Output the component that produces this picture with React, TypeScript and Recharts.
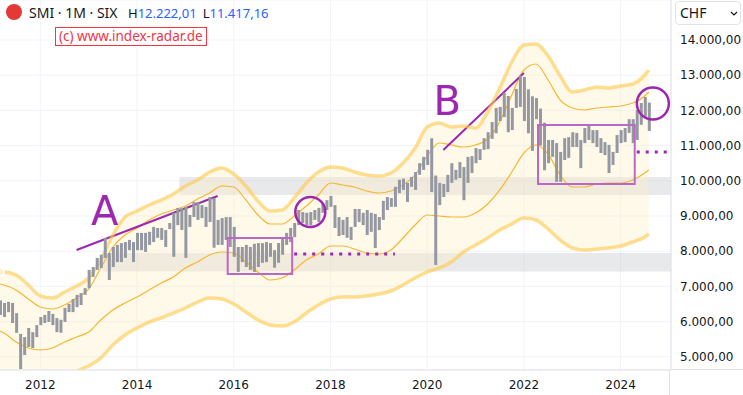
import React from "react";
import {
  ComposedChart,
  Bar,
  Line,
  Area,
  XAxis,
  YAxis,
  CartesianGrid,
  ReferenceArea,
  ReferenceLine,
  ReferenceDot,
} from "recharts";

// monthly categories Mar 2011 .. Jan 2025 (last 5 months are empty space on the right)
const months: string[] = Array.from({ length: 167 }, (_, i) => {
  const t = 2011 * 12 + 2 + i;
  return `${Math.floor(t / 12)}-${String((t % 12) + 1).padStart(2, "0")}`;
});

const yearTicks = ["2012-01", "2014-01", "2016-01", "2018-01", "2020-01", "2022-01", "2024-01"];
const priceTicks = [5000, 6000, 7000, 8000, 9000, 10000, 11000, 12000, 13000, 14000];

// monthly low / high, Mar 2011 .. Aug 2024
const lows = [
  6190, 6130, 6270, 5960, 5680, 4650, 5050, 5280, 5250, 5560, // 2011
  5900, 5960, 5990, 5900, 5700, 5680, 5990, 6270, 6270, 6410, 6470, 6760, // 2012
  6950, 7270, 7470, 7520, 7810, 7180, 7550, 7690, 7690, 7810, 8030, 7690, // 2013
  8030, 8030, 7980, 8180, 8260, 8380, 8320, 8120, 8630, 7840, 8740, 8600, // 2014
  7810, 8690, 8970, 8890, 8940, 8690, 8830, 8100, 8180, 8180, 8320, 8120, // 2015
  7840, 7410, 7690, 7550, 7470, 7410, 7550, 7670, 7690, 7840, 7530, 7670, // 2016
  7900, 8180, 8260, 8400, 8740, 8800, 8740, 8740, 8890, 8830, 9090, 9170, // 2017
  9260, 8660, 8430, 8460, 8380, 8320, 8690, 8830, 8740, 8460, 8550, 8090, // 2018
  8600, 8890, 9170, 9260, 9260, 9650, 9740, 9400, 9830, 9740, 10170, 10310, // 2019
  10450, 9680, 7610, 9310, 9540, 9680, 9940, 10030, 10080, 9450, 9940, 10220, // 2020
  10500, 10590, 10880, 10900, 11190, 11350, 11700, 11810, 11380, 11440, 12070, 12100, // 2021
  11700, 11350, 10850, 11750, 11000, 10300, 10500, 10680, 9970, 9970, 10590, 10650, // 2022
  10960, 10960, 10360, 11070, 11160, 11070, 10960, 10790, 10730, 10220, 10450, 10790, // 2023
  11070, 11100, 11360, 11070, 11160, 11590, 11810, 11417, // 2024
];
const highs = [
  6600, 6530, 6560, 6530, 6240, 5650, 5560, 5820, 5700, 5900,
  6130, 6190, 6300, 6220, 6100, 6050, 6390, 6500, 6640, 6760, 6810, 6950,
  7470, 7550, 7810, 7900, 8380, 7950, 8120, 8180, 8230, 8260, 8320, 8260,
  8520, 8520, 8520, 8550, 8690, 8660, 8660, 8600, 8800, 9090, 9230, 9230,
  9260, 9030, 9400, 9400, 9310, 9260, 9540, 9510, 8890, 8940, 8970, 8970,
  8690, 8120, 8120, 8180, 8120, 8210, 8230, 8230, 8260, 8230, 8030, 8230,
  8400, 8520, 8660, 8800, 9170, 9110, 9090, 9110, 9170, 9230, 9370, 9450,
  9570, 9310, 8970, 8890, 8970, 8690, 9200, 9200, 9090, 9170, 9090, 9060,
  8970, 9430, 9540, 9510, 9830, 10030, 10060, 9940, 10110, 10250, 10500, 10680,
  10880, 11210, 10150, 9940, 9910, 10170, 10500, 10310, 10530, 10390, 10680, 10700,
  10930, 10900, 11210, 11380, 11670, 12070, 12100, 12500, 12410, 12070, 12610, 12990,
  12950, 12600, 12400, 12350, 12050, 11650, 11160, 11160, 11070, 10820, 11210, 11240,
  11380, 11360, 11160, 11500, 11560, 11440, 11440, 11210, 11100, 11020, 10820, 11300,
  11440, 11500, 11750, 11750, 12010, 12210, 12380, 12222,
];

// envelope bands, read quarterly
const bandMonths = [
  "2011-03", "2011-04", "2011-07", "2011-10",
  "2012-01", "2012-04", "2012-07", "2012-10",
  "2013-01", "2013-04", "2013-07", "2013-10",
  "2014-01", "2014-04", "2014-07", "2014-10",
  "2015-01", "2015-04", "2015-07", "2015-10",
  "2016-01", "2016-04", "2016-07", "2016-10",
  "2017-01", "2017-04", "2017-07", "2017-10",
  "2018-01", "2018-04", "2018-07", "2018-10",
  "2019-01", "2019-04", "2019-07", "2019-10",
  "2020-01", "2020-04", "2020-07", "2020-10",
  "2021-01", "2021-04", "2021-07", "2021-10",
  "2022-01", "2022-04", "2022-07", "2022-10",
  "2023-01", "2023-04", "2023-07", "2023-10",
  "2024-01", "2024-04", "2024-07", "2024-08",
];
const outerUpper = [
  7409, 7409, 7324, 7040, 6727, 6670, 6841, 7011, 7239, 7750, 8460, 8972,
  9142, 9313, 9455, 9625, 9852, 10023, 10250, 10364, 10193, 9852, 9426, 9142,
  9171, 9511, 9937, 10250, 10392, 10364, 10250, 10165, 10136, 10222, 10506, 10932,
  11528, 11642, 11528, 11557, 11500, 11955, 12636, 13375, 13858, 13886, 13545, 12977,
  12523, 12580, 12665, 12636, 12693, 12750, 13006, 13148,
];
const innerUpper = [
  7068, 7040, 6898, 6642, 6415, 6358, 6472, 6670, 6926, 7523, 8119, 8460,
  8659, 8886, 9057, 9171, 9284, 9483, 9653, 9852, 9824, 9455, 9028, 8773,
  8773, 9000, 9284, 9597, 9937, 9880, 9824, 9710, 9653, 9710, 9880, 10165,
  10704, 11074, 11017, 10960, 11017, 11188, 11671, 12438, 13148, 13318, 12864, 12296,
  12068, 12011, 12068, 12097, 12125, 12210, 12409, 12523,
];
const innerLower = [
  5733, 5676, 5420, 5250, 5193, 5250, 5420, 5562, 5704, 6045, 6329, 6528,
  6699, 6898, 7096, 7267, 7523, 7693, 7892, 7977, 7949, 7693, 7409, 7182,
  7239, 7466, 7750, 7920, 8148, 8148, 8062, 7949, 7920, 8034, 8375, 8744,
  9028, 9000, 8972, 8972, 9085, 9341, 9739, 10250, 10790, 11017, 10761, 10165,
  9824, 9824, 9909, 9937, 9937, 10023, 10222, 10307,
];
const outerLower = [
  4227, 4199, 4056, 3886, 3830, 3915, 4199, 4568, 4739, 4966, 5335, 5619,
  5818, 5988, 6102, 6244, 6386, 6556, 6670, 6642, 6500, 6272, 6045, 5903,
  5875, 5988, 6244, 6471, 6642, 6699, 6699, 6727, 6784, 6869, 7040, 7239,
  7409, 7523, 7693, 7977, 8176, 8375, 8602, 8773, 8943, 8886, 8630, 8318,
  8091, 8034, 8062, 8091, 8148, 8261, 8403, 8488,
];

const rows = months.map((m, i) => {
  const b = bandMonths.indexOf(m);
  return {
    m,
    hl: i < lows.length ? [lows[i], highs[i]] : null,
    ou: b >= 0 ? outerUpper[b] : null,
    iu: b >= 0 ? innerUpper[b] : null,
    il: b >= 0 ? innerLower[b] : null,
    ol: b >= 0 ? outerLower[b] : null,
    band: b >= 0 ? [outerLower[b], outerUpper[b]] : null,
  };
});

const PURPLE = "#9c27b0";
const fmtPrice = (v: number) => `${Math.floor(v / 1000)}.${String(v % 1000).padStart(3, "0")},00`;

export default function App() {
  return (
    <div
      style={{
        position: "absolute",
        left: 0,
        top: 0,
        width: 743,
        height: 395,
        overflow: "hidden",
        background: "#fff",
        fontFamily: "'DejaVu Sans', sans-serif",
      }}
    >
      <div style={{ position: "absolute", left: -2, top: 0 }}>
        <ComposedChart width={745} height={395} data={rows} margin={{ top: 0, right: 0, bottom: 0, left: 0 }}>
          <CartesianGrid stroke="#f0f3fa" />
          <XAxis
            dataKey="m"
            ticks={yearTicks}
            interval={0}
            tickFormatter={(m: string) => m.slice(0, 4)}
            height={25}
            tickLine={false}
            tickSize={0}
            tickMargin={10}
            axisLine={{ stroke: "#e0e3eb" }}
            tick={{ fill: "#131722", fontSize: 12 }}
          />
          <YAxis
            orientation="right"
            width={72}
            domain={[4625, 15136]}
            allowDataOverflow
            ticks={priceTicks}
            tickFormatter={fmtPrice}
            tickLine={false}
            tickSize={0}
            tickMargin={9}
            axisLine={{ stroke: "#e0e3eb" }}
            tick={{ fill: "#131722", fontSize: 12 }}
          />
          <ReferenceArea x1="2014-12" y1={9597} y2={10108} fill="#b2b5be" fillOpacity={0.3} stroke="none" zIndex={40} />
          <ReferenceArea x1="2013-05" y1={7420} y2={7950} fill="#b2b5be" fillOpacity={0.3} stroke="none" zIndex={40} />
          <Area
            dataKey="band"
            type="monotone"
            connectNulls
            fill="#ffefc6"
            fillOpacity={0.36}
            stroke="none"
            isAnimationActive={false}
            zIndex={60}
          />
          <Line dataKey="iu" type="monotone" connectNulls stroke="#f7b731" strokeWidth={1.2} dot={false} activeDot={false} isAnimationActive={false} zIndex={250} />
          <Line dataKey="il" type="monotone" connectNulls stroke="#f7b731" strokeWidth={1.2} dot={false} activeDot={false} isAnimationActive={false} zIndex={250} />
          <ReferenceLine segment={[{ x: "2012-10", y: 8034 }, { x: "2015-09", y: 9568 }]} stroke={PURPLE} strokeWidth={2} zIndex={270} />
          <ReferenceLine segment={[{ x: "2020-05", y: 10875 }, { x: "2022-01", y: 13062 }]} stroke={PURPLE} strokeWidth={2} zIndex={270} />
          <Line dataKey="ou" type="monotone" connectNulls stroke="#ffc94d" strokeOpacity={0.62} strokeWidth={3.5} dot={false} activeDot={false} isAnimationActive={false} zIndex={290} />
          <Line dataKey="ol" type="monotone" connectNulls stroke="#ffc94d" strokeOpacity={0.62} strokeWidth={3.5} dot={false} activeDot={false} isAnimationActive={false} zIndex={290} />
          <Bar dataKey="hl" fill="#9598a1" barSize={3} isAnimationActive={false} zIndex={300} />
          <ReferenceArea x1="2015-12" x2="2017-03" y1={7352} y2={8375} fill="none" fillOpacity={0} stroke="#ba68c8" strokeWidth={2} zIndex={700} />
          <ReferenceArea x1="2022-05" x2="2024-04" y1={9909} y2={11585} fill="none" fillOpacity={0} stroke="#ba68c8" strokeWidth={2} zIndex={700} />
          <ReferenceLine segment={[{ x: "2017-04", y: 7920 }, { x: "2019-05", y: 7920 }]} stroke={PURPLE} strokeWidth={3} strokeDasharray="3 6" zIndex={700} />
          <ReferenceLine segment={[{ x: "2024-05", y: 10818 }, { x: "2025-01", y: 10818 }]} stroke={PURPLE} strokeWidth={3} strokeDasharray="3 6" zIndex={700} />
          <ReferenceDot x="2017-08" y={9114} r={15} fill="none" stroke={PURPLE} strokeWidth={2.5} zIndex={700} />
          <ReferenceDot x="2024-09" y={12196} r={16} fill="none" stroke={PURPLE} strokeWidth={2.5} zIndex={700} />
          <ReferenceDot
            x="2013-05"
            y={9142}
            r={1}
            fill="none"
            stroke="none"
            zIndex={800}
            label={{ value: "A", position: "center", fill: PURPLE, fontSize: 40 }}
          />
          <ReferenceDot
            x="2020-06"
            y={12267}
            r={1}
            fill="none"
            stroke="none"
            zIndex={800}
            label={{ value: "B", position: "center", fill: PURPLE, fontSize: 40 }}
          />
        </ComposedChart>
      </div>

      {/* axis frame pieces in the price-scale corner */}
      <div style={{ position: "absolute", left: 669, top: 369, width: 74, height: 1, background: "#e0e3eb" }} />
      <div style={{ position: "absolute", left: 669, top: 369, width: 1, height: 26, background: "#e0e3eb" }} />

      {/* legend */}
      <div style={{ position: "absolute", left: 6, top: 4, width: 16, height: 16, borderRadius: 8, background: "#e53935" }} />
      <div
        style={{
          position: "absolute",
          left: 29,
          top: 3,
          fontFamily: "'Noto Sans', sans-serif",
          fontSize: 14,
          lineHeight: "20px",
          color: "#131722",
          whiteSpace: "nowrap",
        }}
      >
        SMI · 1M · SIX
      </div>
      <div
        style={{
          position: "absolute",
          left: 128,
          top: 4,
          fontFamily: "'Noto Sans', sans-serif",
          fontSize: 13,
          lineHeight: "18px",
          color: "#131722",
          whiteSpace: "nowrap",
        }}
      >
        H<span style={{ color: "#2962ff" }}>12.222,01</span>
        <span style={{ marginLeft: 6 }}>L</span>
        <span style={{ color: "#2962ff" }}>11.417,16</span>
      </div>
      <div
        style={{
          position: "absolute",
          left: 55,
          top: 27,
          padding: "0 3px",
          border: "1px solid #f23645",
          background: "rgba(255,255,255,0.85)",
          color: "#f23645",
          fontFamily: "'Noto Sans', sans-serif",
          fontSize: 13.5,
          lineHeight: "17px",
          whiteSpace: "nowrap",
        }}
      >
        (c) www.index-radar.de
      </div>
      <div
        style={{
          position: "absolute",
          left: 675,
          top: 1,
          width: 66,
          height: 24,
          boxSizing: "border-box",
          border: "1px solid #e0e3eb",
          borderRadius: 4,
          background: "#fff",
          fontFamily: "'Noto Sans', sans-serif",
          fontSize: 14,
          lineHeight: "22px",
          color: "#131722",
          paddingLeft: 4,
        }}
      >
        CHF
        <svg width="8" height="6" style={{ position: "absolute", right: 2, top: 9 }}>
          <polyline points="1,1 4,4 7,1" fill="none" stroke="#131722" strokeWidth="1.2" />
        </svg>
      </div>
    </div>
  );
}
